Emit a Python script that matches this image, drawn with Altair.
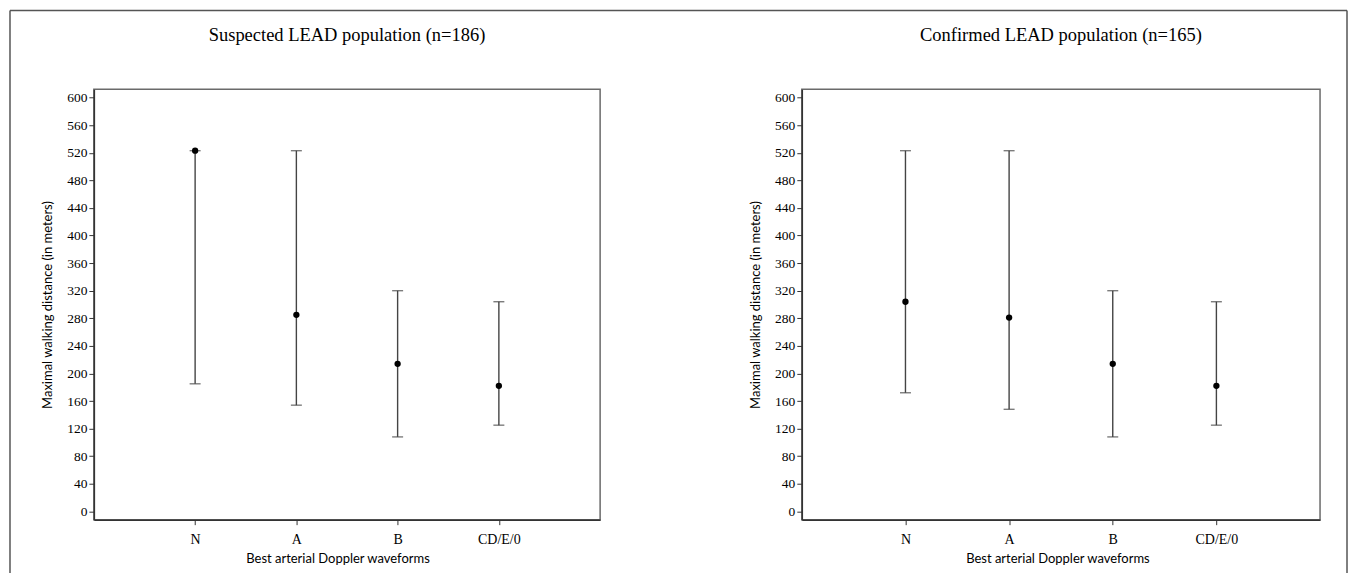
import altair as alt
import pandas as pd

categories = ["N", "A", "B", "CD/E/0"]

susp_center = [523, 285, 214, 182]
susp_low = [185, 154, 108, 125]
susp_high = [523, 523, 320, 304]

conf_center = [304, 281, 214, 182]
conf_low = [172, 148, 108, 125]
conf_high = [523, 523, 320, 304]

titles = ["Suspected LEAD population (n=186)", "Confirmed LEAD population (n=165)"]
x_title = "Best arterial Doppler waveforms"
y_title = "Maximal walking distance (in meters)"
y_ticks = list(range(0, 601, 40))

SERIF = "Liberation Serif"
SANS = "Lato"
LINE = "#444444"
HEIGHT = 431


def panel(title, center, low, high, width, xtitle_pos, frame=False):
    df = pd.DataFrame({"cat": categories, "center": center, "low": low, "high": high})
    xs = alt.Scale(type="point", padding=1)
    ys = alt.Scale(domain=[-12, 612], nice=False, zero=False)
    xaxis = alt.Axis(
        title=x_title,
        labelAngle=0,
        labelFontSize=14,
        labelPadding=8,
        titlePadding=6,
        titleX=xtitle_pos,
    )
    yaxis = alt.Axis(
        title=y_title,
        values=y_ticks,
        tickCount=16,
        labelOverlap=False,
        labelFontSize=13.5,
        labelPadding=2,
        titlePadding=12,
    )
    xenc = alt.X("cat:N", sort=categories, scale=xs, axis=xaxis)
    base = alt.Chart(df)
    rule = base.mark_rule(color=LINE, strokeWidth=1.4).encode(
        x=xenc,
        y=alt.Y("low:Q", scale=ys, axis=yaxis),
        y2="high:Q",
    )
    cap_lo = base.mark_tick(color=LINE, size=11, thickness=1.4).encode(
        x=xenc, y=alt.Y("low:Q", scale=ys, axis=yaxis)
    )
    cap_hi = base.mark_tick(color=LINE, size=11, thickness=1.4).encode(
        x=xenc, y=alt.Y("high:Q", scale=ys, axis=yaxis)
    )
    pts = base.mark_circle(color="black", size=40, opacity=1).encode(
        x=xenc, y=alt.Y("center:Q", scale=ys, axis=yaxis)
    )
    one = alt.Chart(pd.DataFrame({"k": [0]}))
    ttl = one.mark_text(
        font=SERIF, fontSize=18.5, color="black", align="center", baseline="middle"
    ).encode(x=alt.value(width / 2), y=alt.value(-54), text=alt.value(title))
    layers = [rule, cap_lo, cap_hi, pts, ttl]
    if frame:
        fc = "#555"
        layers += [
            one.mark_rule(color=fc, strokeWidth=1.5).encode(
                x=alt.value(-84), y=alt.value(-79), y2=alt.value(490)
            ),
            one.mark_rule(color=fc, strokeWidth=1.5).encode(
                x=alt.value(-84), x2=alt.value(1255), y=alt.value(-79)
            ),
            one.mark_rule(color=fc, strokeWidth=1.5).encode(
                x=alt.value(1255), y=alt.value(-79), y2=alt.value(490)
            ),
        ]
    return alt.layer(*layers).properties(width=width, height=HEIGHT)


left = panel(titles[0], susp_center, susp_low, susp_high, 507, 244, frame=True)
right = panel(titles[1], conf_center, conf_low, conf_high, 519, 256)

chart = (
    alt.hconcat(left, right, spacing=202, bounds="flush")
    .resolve_scale(x="independent", y="independent")
    .properties(padding=0, background="white")
    .configure_view(stroke="#6a6a6a", strokeWidth=1.5)
    .configure_axis(
        grid=False,
        labelFont=SERIF,
        labelFontSize=13,
        labelColor="black",
        labelOverlap=False,
        tickColor="#333",
        tickSize=5,
        domainColor="#333",
        domainWidth=1.5,
        titleFont=SANS,
        titleFontSize=13,
        titleFontWeight="normal",
        titleColor="black",
    )
)

chart.save("out.html", embed_options={"renderer": "svg", "actions": False})
